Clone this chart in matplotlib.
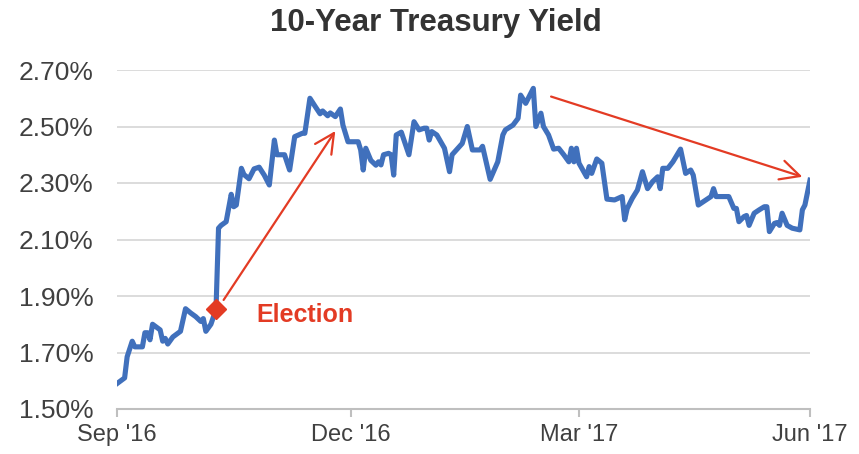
import pandas as pd
import matplotlib
matplotlib.use("Agg")
import matplotlib.pyplot as plt
import matplotlib.dates as mdates
from matplotlib.ticker import FuncFormatter

# 10-year treasury yield (%)
dates = [
    "2016-09-30", "2016-10-03", "2016-10-04", "2016-10-06", "2016-10-07", "2016-10-10",
    "2016-10-11", "2016-10-12", "2016-10-13", "2016-10-14", "2016-10-17", "2016-10-18",
    "2016-10-19", "2016-10-20", "2016-10-22", "2016-10-25", "2016-10-27", "2016-10-29",
    "2016-10-31", "2016-11-02", "2016-11-03", "2016-11-04", "2016-11-06", "2016-11-08",
    "2016-11-09", "2016-11-10", "2016-11-12", "2016-11-14", "2016-11-15", "2016-11-16",
    "2016-11-18", "2016-11-19", "2016-11-21", "2016-11-23", "2016-11-25", "2016-11-27",
    "2016-11-29", "2016-12-01", "2016-12-02", "2016-12-05", "2016-12-07", "2016-12-09",
    "2016-12-12", "2016-12-13", "2016-12-15", "2016-12-17", "2016-12-19", "2016-12-20",
    "2016-12-22", "2016-12-23", "2016-12-25", "2016-12-27", "2016-12-28", "2016-12-30",
    "2017-01-03", "2017-01-04", "2017-01-05", "2017-01-06", "2017-01-08", "2017-01-10",
    "2017-01-11", "2017-01-12", "2017-01-13", "2017-01-15", "2017-01-16", "2017-01-17",
    "2017-01-18", "2017-01-20", "2017-01-23", "2017-01-25", "2017-01-27", "2017-01-29",
    "2017-01-30", "2017-01-31", "2017-02-01", "2017-02-03", "2017-02-06", "2017-02-08",
    "2017-02-09", "2017-02-13", "2017-02-15", "2017-02-17", "2017-02-20", "2017-02-21",
    "2017-02-24", "2017-02-27", "2017-03-01", "2017-03-02", "2017-03-05", "2017-03-07",
    "2017-03-08", "2017-03-10", "2017-03-13", "2017-03-14", "2017-03-16", "2017-03-17",
    "2017-03-19", "2017-03-21", "2017-03-23", "2017-03-25", "2017-03-27", "2017-03-28",
    "2017-03-29", "2017-03-30", "2017-03-31", "2017-04-03", "2017-04-04", "2017-04-05",
    "2017-04-07", "2017-04-09", "2017-04-11", "2017-04-14", "2017-04-17", "2017-04-18",
    "2017-04-19", "2017-04-21", "2017-04-23", "2017-04-25", "2017-04-27", "2017-04-29",
    "2017-05-01", "2017-05-02", "2017-05-03", "2017-05-05", "2017-05-07", "2017-05-10",
    "2017-05-12", "2017-05-14", "2017-05-15", "2017-05-17", "2017-05-19", "2017-05-22",
    "2017-05-23", "2017-05-24", "2017-05-29", "2017-05-31", "2017-06-01", "2017-06-02",
    "2017-06-04", "2017-06-05", "2017-06-06", "2017-06-08", "2017-06-10", "2017-06-12",
    "2017-06-13", "2017-06-14", "2017-06-16", "2017-06-17", "2017-06-18", "2017-06-19",
    "2017-06-21", "2017-06-23", "2017-06-26", "2017-06-27", "2017-06-28", "2017-06-30",
]
yields = [
    1.59, 1.61, 1.685, 1.74, 1.72, 1.72,
    1.77, 1.77, 1.745, 1.80, 1.78, 1.74,
    1.75, 1.73, 1.755, 1.775, 1.855, 1.84,
    1.827, 1.81, 1.82, 1.775, 1.80, 1.853,
    2.14, 2.15, 2.163, 2.26, 2.216, 2.222,
    2.352, 2.33, 2.315, 2.35, 2.356, 2.328,
    2.293, 2.452, 2.40, 2.40, 2.346, 2.464,
    2.476, 2.476, 2.60, 2.572, 2.545, 2.555,
    2.538, 2.548, 2.535, 2.562, 2.505, 2.446,
    2.446, 2.417, 2.346, 2.423, 2.38, 2.363,
    2.375, 2.364, 2.40, 2.405, 2.40, 2.328,
    2.47, 2.48, 2.40, 2.517, 2.488, 2.494,
    2.494, 2.452, 2.482, 2.47, 2.423, 2.34,
    2.40, 2.44, 2.50, 2.417, 2.417, 2.43,
    2.313, 2.375, 2.47, 2.488, 2.505, 2.529,
    2.611, 2.582, 2.635, 2.50, 2.547, 2.50,
    2.47, 2.42, 2.423, 2.40, 2.375, 2.423,
    2.375, 2.423, 2.37, 2.322, 2.358, 2.334,
    2.385, 2.37, 2.243, 2.24, 2.252, 2.17,
    2.21, 2.246, 2.275, 2.34, 2.28, 2.305,
    2.322, 2.28, 2.352, 2.352, 2.375, 2.42,
    2.334, 2.346, 2.328, 2.222, 2.234, 2.252,
    2.28, 2.252, 2.252, 2.21, 2.21, 2.163,
    2.181, 2.185, 2.15, 2.193, 2.205, 2.216,
    2.216, 2.128, 2.157, 2.16, 2.15, 2.193,
    2.15, 2.14, 2.134, 2.205, 2.222, 2.31,
]
election_date = "2016-11-08"
tick_dates = ["2016-09-30", "2016-12-31", "2017-03-31", "2017-06-30"]
y_ticks = [1.50, 1.70, 1.90, 2.10, 2.30, 2.50, 2.70]

BLUE = "#4070BC"
RED = "#E33B24"
GRID = "#D9D9D9"
TEXT = "#404040"

plt.rcParams["font.family"] = ["Liberation Sans", "DejaVu Sans"]

x = pd.to_datetime(dates)
ticks = pd.to_datetime(tick_dates)

fig = plt.figure(figsize=(8.59, 4.54), dpi=100)
ax = fig.add_axes([117 / 859, 1 - 409 / 454, 693 / 859, 339 / 454])

ax.plot(x, yields, color=BLUE, lw=3.7, solid_joinstyle="round", zorder=3)

# election marker
ei = dates.index(election_date)
ax.plot(x[ei], yields[ei], marker="D", ms=10.5, color=RED, mec=RED, zorder=5)

arrow = dict(arrowstyle="->,head_length=0.7,head_width=0.35", color=RED,
             lw=1.6, mutation_scale=20, shrinkA=0, shrinkB=0)
ax.annotate("", xy=(pd.Timestamp("2016-12-25"), 2.484),
            xytext=(pd.Timestamp("2016-11-11"), 1.886), arrowprops=arrow, zorder=4)
ax.annotate("", xy=(pd.Timestamp("2017-06-27"), 2.322),
            xytext=(pd.Timestamp("2017-03-20"), 2.606), arrowprops=arrow, zorder=4)
ax.text(pd.Timestamp("2016-11-24"), 1.833, "Election", color=RED,
        fontsize=18, fontweight="bold", ha="left", va="center")

ax.set_xlim(ticks[0], ticks[-1])
ax.set_ylim(1.5, 2.7)
ax.set_yticks(y_ticks)
ax.yaxis.set_major_formatter(FuncFormatter(lambda v, p: f"{v:.2f}%"))
ax.set_xticks(ticks)
ax.xaxis.set_major_formatter(mdates.DateFormatter("%b '%y"))

ax.grid(axis="y", color=GRID, lw=1.3)
ax.set_axisbelow(True)
for s in ["left", "right", "top"]:
    ax.spines[s].set_visible(False)
ax.spines["bottom"].set_color("#BFBFBF")
ax.spines["bottom"].set_linewidth(1.5)

ax.tick_params(axis="y", length=0, pad=17, labelsize=19, labelcolor=TEXT)
ax.tick_params(axis="x", length=6, width=1.5, color="#BFBFBF", pad=5,
               labelsize=17, labelcolor=TEXT)

fig.text(0.507, 1 - 23 / 454, "10-Year Treasury Yield", ha="center", va="center",
         fontsize=22.5, fontweight="bold", color="#333333")

fig.savefig("out.png", dpi=100)
